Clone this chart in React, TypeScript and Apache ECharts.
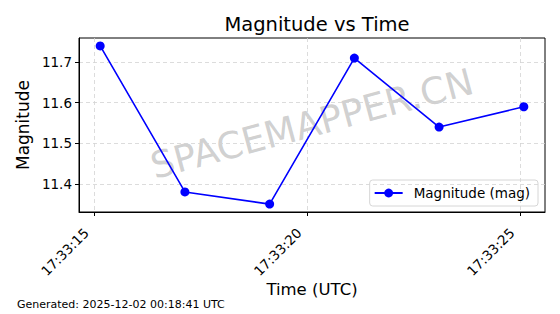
import React, { useEffect, useRef } from "react";
import * as echarts from "echarts";

// seconds after 17:33:00 UTC
const times = [15.13, 17.12, 19.11, 21.1, 23.09, 25.08];
const magnitudes = [11.74, 11.38, 11.35, 11.71, 11.54, 11.59];
const xTicks = [15, 20, 25];
const yTicks = [11.4, 11.5, 11.6, 11.7];
const title = "Magnitude vs Time";
const seriesName = "Magnitude (mag)";
const footnote = "Generated: 2025-12-02 00:18:41 UTC";
const watermark = "SPACEMAPPER.CN";

const pad2 = (n: number) => (n < 10 ? "0" + n : "" + n);
const fmtTime = (s: number) => "17:33:" + pad2(Math.round(s));

export default function App() {
  const ref = useRef<HTMLDivElement>(null);
  useEffect(() => {
    if (!ref.current) return;
    const chart = echarts.init(ref.current, null, { renderer: "svg" });
    const xSpan = times[times.length - 1] - times[0];
    const xMin = times[0] - 0.05 * xSpan;
    const xMax = times[times.length - 1] + 0.05 * xSpan;
    const yLo = Math.min(...magnitudes);
    const yHi = Math.max(...magnitudes);
    const ySpan = yHi - yLo;
    const font = "DejaVu Sans";
    const grid = { color: "#d3d3d3", type: [4, 3] as number[], width: 0.8 };
    chart.setOption({
      animation: false,
      textStyle: { fontFamily: font },
      title: {
        text: title,
        left: 312,
        top: 9,
        textAlign: "center",
        textStyle: { fontFamily: font, fontSize: 19.5, fontWeight: "normal", color: "#000" },
      },
      grid: {
        left: 79,
        top: 38,
        right: 15,
        bottom: 102,
        show: true,
        borderColor: "#000",
        borderWidth: 1,
        backgroundColor: "transparent",
      },
      legend: {
        right: 22,
        top: 180,
        orient: "vertical",
        padding: [6, 8, 6, 4],
        borderColor: "#d6d6d6",
        borderWidth: 1,
        borderRadius: 3,
        itemWidth: 28,
        itemHeight: 11,
        itemGap: 6,
        textStyle: { fontFamily: font, fontSize: 13.5, color: "#000", padding: [0, 0, 0, 6] },
        data: [seriesName],
      },
      xAxis: {
        type: "value",
        min: xMin,
        max: xMax,
        name: "Time (UTC)",
        nameLocation: "middle",
        nameGap: 77,
        nameMoveOverlap: false,
        nameTextStyle: { fontFamily: font, fontSize: 16.5, color: "#000", verticalAlign: "middle" },
        axisLine: { show: true, onZero: false, lineStyle: { color: "#000", width: 1 } },
        axisTick: { show: true, length: 4, customValues: xTicks, lineStyle: { color: "#000" } },
        axisLabel: {
          customValues: xTicks,
          rotate: 45,
          margin: 10,
          padding: [0, 12, 0, 0],
          fontFamily: font,
          fontSize: 13.5,
          color: "#000",
          formatter: (v: number) => fmtTime(v),
        },
        splitLine: { show: true, lineStyle: grid },
      },
      yAxis: {
        type: "value",
        min: yLo - 0.05 * ySpan,
        max: yHi + 0.05 * ySpan,
        name: "Magnitude",
        nameLocation: "middle",
        nameGap: 48,
        nameTextStyle: { fontFamily: font, fontSize: 17, color: "#000" },
        axisLine: { show: true, lineStyle: { color: "#000", width: 1 } },
        axisTick: { show: true, length: 4, customValues: yTicks, lineStyle: { color: "#000" } },
        axisLabel: {
          customValues: yTicks,
          margin: 7,
          fontFamily: font,
          fontSize: 13.5,
          color: "#000",
          formatter: (v: number) => v.toFixed(1),
        },
        splitLine: { show: true, lineStyle: grid },
      },
      graphic: [
        {
          type: "text",
          x: 312,
          y: 124,
          rotation: (15 * Math.PI) / 180,
          z: 0,
          style: {
            text: watermark,
            fontFamily: font,
            fontSize: 37,
            fill: "rgba(150,150,150,0.45)",
            align: "center",
            verticalAlign: "middle",
          },
        },
        {
          type: "text",
          left: 17,
          top: 299,
          style: { text: footnote, fontFamily: font, fontSize: 11, fill: "#000" },
        },
      ],
      series: [
        {
          name: seriesName,
          type: "line",
          data: times.map((t, i) => [t, magnitudes[i]]),
          symbol: "circle",
          symbolSize: 9,
          showAllSymbol: true,
          lineStyle: { color: "#0000ff", width: 1.6 },
          itemStyle: { color: "#0000ff" },
          z: 3,
        },
      ],
    });
    return () => chart.dispose();
  }, []);
  return (
    <div
      ref={ref}
      style={{ position: "absolute", left: 0, top: 0, width: 560, height: 314, background: "#fff" }}
    />
  );
}
